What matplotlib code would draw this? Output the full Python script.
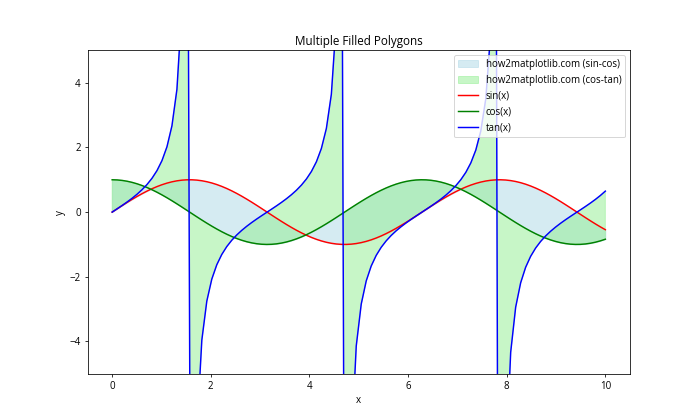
import numpy as np
import matplotlib
matplotlib.use("Agg")
import matplotlib.pyplot as plt

plt.rcParams['font.family'] = ['Open Sans', 'DejaVu Sans']

# x samples and the three curves shown in the chart
x = np.linspace(0, 10, 100)
y_sin = np.sin(x)
y_cos = np.cos(x)
y_tan = np.tan(x)

fig, ax = plt.subplots(figsize=(10, 6), dpi=70)

ax.fill_between(x, y_sin, y_cos, color='lightblue', alpha=0.5,
                label='how2matplotlib.com (sin-cos)')
ax.fill_between(x, y_cos, y_tan, color='lightgreen', alpha=0.5,
                label='how2matplotlib.com (cos-tan)')
ax.plot(x, y_sin, color='red', label='sin(x)')
ax.plot(x, y_cos, color='green', label='cos(x)')
ax.plot(x, y_tan, color='blue', label='tan(x)')

ax.set_ylim(-5, 5)
ax.set_title('Multiple Filled Polygons')
ax.set_xlabel('x')
ax.set_ylabel('y')
ax.legend(loc='upper right')

plt.savefig('out.png')
